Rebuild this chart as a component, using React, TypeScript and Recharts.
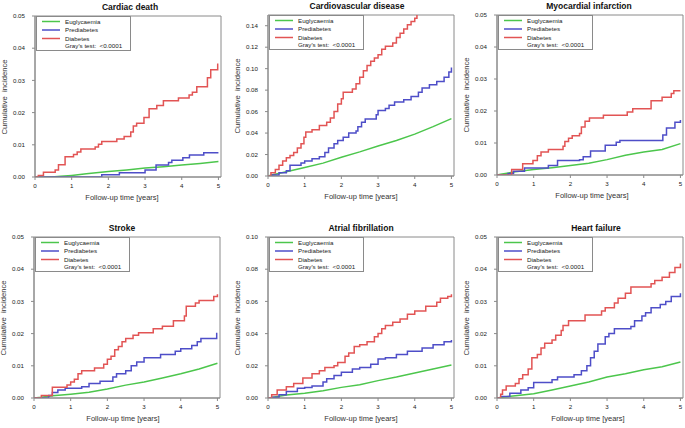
import React from 'react';
import { LineChart, Line, XAxis, YAxis, ReferenceArea } from 'recharts';

type Pts = [number, number][];

// ---------- tick labels / categories ----------
const xTicks = [0, 1, 2, 3, 4, 5];
const yTicks05 = [0, 0.01, 0.02, 0.03, 0.04, 0.05];
const yTicks15 = [0, 0.02, 0.04, 0.06, 0.08, 0.1, 0.12, 0.14];
const yTicks10 = [0, 0.02, 0.04, 0.06, 0.08, 0.1];
const seriesNames = ['Euglycaemia', 'Prediabetes', 'Diabetes'];
const testLabel = "Gray's test:  <0.0001";
const xLabel = 'Follow-up time [years]';
const yLabel = 'Cumulative  incidence';

// ---------- Cardiac death ----------
const cdEu: Pts = [[0, 0], [0.45, 0], [0.7, 0.0002], [1.0, 0.0005], [1.4, 0.001], [2.0, 0.0017], [2.5, 0.0022], [3.0, 0.0028], [3.5, 0.0032], [4.0, 0.0037], [4.5, 0.0042], [5.0, 0.0048]];
const cdPre: Pts = [[0, 0], [1.82, 0.0007], [2.3, 0.0013], [3.0, 0.0022], [3.3, 0.0037], [3.64, 0.0045], [3.73, 0.0052], [4.03, 0.006], [4.21, 0.0068], [4.6, 0.0075], [5.0, 0.0075]];
const cdDia: Pts = [[0, 0], [0.09, 0.0005], [0.23, 0.0015], [0.55, 0.0022], [0.64, 0.0038], [0.82, 0.0063], [1.05, 0.007], [1.15, 0.0078], [1.25, 0.0087], [1.64, 0.0093], [1.73, 0.0102], [1.82, 0.011], [2.23, 0.0118], [2.43, 0.0126], [2.61, 0.014], [2.68, 0.0158], [2.77, 0.0167], [2.97, 0.0185], [3.11, 0.0212], [3.32, 0.0222], [3.5, 0.0237], [3.91, 0.0245], [4.2, 0.0255], [4.29, 0.0263], [4.41, 0.028], [4.7, 0.0308], [4.79, 0.0333], [4.98, 0.035], [5.0, 0.035]];

// ---------- Cardiovascular disease ----------
const cvdEu: Pts = [[0, 0], [0.1, 0.001], [0.5, 0.004], [1.0, 0.008], [1.5, 0.012], [2.0, 0.0175], [2.5, 0.0225], [3.0, 0.028], [3.5, 0.033], [4.0, 0.039], [4.5, 0.046], [5.0, 0.0535]];
const cvdPre: Pts = [[0, 0], [0.1, 0.001], [0.3, 0.003], [0.5, 0.005], [0.6, 0.01], [0.9, 0.012], [1.0, 0.014], [1.2, 0.016], [1.4, 0.018], [1.55, 0.022], [1.65, 0.026], [1.8, 0.03], [1.9, 0.033], [2.05, 0.036], [2.2, 0.04], [2.4, 0.042], [2.45, 0.046], [2.55, 0.05], [2.65, 0.053], [2.95, 0.057], [3.0, 0.061], [3.2, 0.063], [3.3, 0.066], [3.45, 0.069], [3.7, 0.071], [3.9, 0.074], [4.1, 0.078], [4.2, 0.082], [4.4, 0.085], [4.6, 0.088], [4.8, 0.092], [4.93, 0.097], [5.0, 0.101]];
const cvdDia: Pts = [[0, 0], [0.08, 0.003], [0.2, 0.006], [0.3, 0.01], [0.4, 0.014], [0.5, 0.017], [0.6, 0.019], [0.7, 0.022], [0.8, 0.026], [0.9, 0.03], [0.98, 0.036], [1.03, 0.041], [1.2, 0.043], [1.4, 0.047], [1.6, 0.05], [1.7, 0.054], [1.8, 0.06], [1.9, 0.067], [2.0, 0.072], [2.05, 0.078], [2.3, 0.081], [2.4, 0.086], [2.5, 0.092], [2.6, 0.098], [2.7, 0.103], [2.8, 0.107], [2.9, 0.11], [3.0, 0.113], [3.1, 0.118], [3.2, 0.121], [3.4, 0.124], [3.5, 0.129], [3.6, 0.133], [3.7, 0.137], [3.8, 0.141], [3.9, 0.144], [4.0, 0.147], [4.06, 0.151], [4.3, 0.156], [4.6, 0.162], [5.0, 0.17]];

// ---------- Myocardial infarction ----------
const miEu: Pts = [[0, 0], [0.1, 0.0002], [0.5, 0.001], [1.0, 0.0017], [1.5, 0.0023], [2.0, 0.003], [2.5, 0.0037], [3.0, 0.0048], [3.5, 0.0062], [4.0, 0.0072], [4.5, 0.008], [5.0, 0.0098]];
const miPre: Pts = [[0, 0], [0.3, 0.0005], [0.45, 0.0012], [0.75, 0.0022], [1.4, 0.003], [1.65, 0.0045], [2.25, 0.0048], [2.35, 0.0057], [2.55, 0.0075], [2.95, 0.0093], [3.25, 0.0102], [3.35, 0.0108], [4.52, 0.0125], [4.62, 0.0147], [4.85, 0.0165], [5.0, 0.0172]];
const miDia: Pts = [[0, 0], [0.4, 0.0017], [0.7, 0.0035], [0.98, 0.0045], [1.1, 0.006], [1.2, 0.0072], [1.4, 0.008], [1.8, 0.009], [1.85, 0.0105], [1.95, 0.0115], [2.05, 0.0123], [2.25, 0.013], [2.3, 0.015], [2.4, 0.0168], [2.52, 0.0178], [2.9, 0.0187], [3.55, 0.0197], [3.7, 0.0207], [4.2, 0.0232], [4.5, 0.0243], [4.75, 0.0255], [4.82, 0.0263], [5.0, 0.0263]];

// ---------- Stroke ----------
const stEu: Pts = [[0, 0], [0.2, 0.0002], [0.5, 0.0007], [1.0, 0.0012], [1.5, 0.0018], [2.0, 0.0028], [2.5, 0.004], [3.0, 0.005], [3.5, 0.0062], [4.0, 0.0075], [4.5, 0.009], [5.0, 0.0108]];
const stPre: Pts = [[0, 0], [0.4, 0.0008], [0.5, 0.0017], [0.65, 0.0025], [0.85, 0.003], [1.3, 0.0035], [1.5, 0.0045], [1.8, 0.0052], [2.15, 0.0065], [2.25, 0.0075], [2.5, 0.0085], [2.65, 0.01], [2.8, 0.0112], [3.0, 0.0125], [3.45, 0.0135], [3.85, 0.0145], [4.0, 0.0153], [4.3, 0.0163], [4.45, 0.0175], [4.55, 0.0185], [4.98, 0.02], [5.0, 0.02]];
const stDia: Pts = [[0, 0], [0.2, 0.0008], [0.5, 0.0033], [0.9, 0.004], [1.0, 0.005], [1.1, 0.0058], [1.2, 0.0075], [1.3, 0.0085], [1.65, 0.0093], [1.9, 0.0105], [2.0, 0.012], [2.1, 0.013], [2.2, 0.015], [2.3, 0.016], [2.4, 0.0175], [2.5, 0.0185], [2.7, 0.0195], [2.85, 0.0203], [3.25, 0.0215], [3.5, 0.0223], [3.8, 0.024], [4.1, 0.0255], [4.15, 0.0285], [4.4, 0.0295], [4.5, 0.0303], [4.9, 0.0315], [5.0, 0.0322]];

// ---------- Atrial fibrillation ----------
const afEu: Pts = [[0, 0], [0.1, 0.0003], [0.5, 0.0018], [1.0, 0.003], [1.5, 0.0045], [2.0, 0.0066], [2.5, 0.0082], [3.0, 0.0108], [3.5, 0.013], [4.0, 0.0155], [4.5, 0.018], [5.0, 0.0205]];
const afPre: Pts = [[0, 0], [0.1, 0.0005], [0.3, 0.002], [0.5, 0.004], [0.8, 0.006], [1.0, 0.0065], [1.2, 0.0075], [1.5, 0.01], [1.6, 0.012], [1.8, 0.014], [2.0, 0.016], [2.3, 0.018], [2.5, 0.019], [2.8, 0.021], [3.0, 0.0243], [3.2, 0.025], [3.5, 0.027], [3.8, 0.029], [4.2, 0.031], [4.5, 0.033], [4.8, 0.035], [5.0, 0.036]];
const afDia: Pts = [[0, 0], [0.1, 0.002], [0.25, 0.005], [0.5, 0.007], [0.7, 0.009], [0.95, 0.0124], [1.2, 0.015], [1.4, 0.017], [1.55, 0.019], [1.8, 0.020], [1.9, 0.022], [2.1, 0.026], [2.2, 0.028], [2.35, 0.032], [2.5, 0.033], [2.7, 0.035], [2.9, 0.038], [3.0, 0.040], [3.1, 0.043], [3.2, 0.045], [3.4, 0.047], [3.6, 0.049], [3.8, 0.052], [4.0, 0.054], [4.3, 0.057], [4.6, 0.0595], [4.7, 0.062], [4.9, 0.063], [5.0, 0.0645]];

// ---------- Heart failure ----------
const hfEu: Pts = [[0, 0], [0.2, 0.0003], [0.5, 0.0007], [1.0, 0.0013], [1.5, 0.0025], [2.0, 0.0037], [2.5, 0.005], [3.0, 0.0065], [3.5, 0.0075], [4.0, 0.0088], [4.5, 0.0097], [5.0, 0.0112]];
const hfPre: Pts = [[0, 0], [0.1, 0.0005], [0.35, 0.0015], [0.65, 0.0025], [0.85, 0.0032], [1.0, 0.0048], [1.5, 0.0057], [1.65, 0.0065], [2.1, 0.0072], [2.3, 0.0085], [2.45, 0.01], [2.55, 0.0125], [2.65, 0.0145], [2.75, 0.0168], [2.95, 0.019], [3.05, 0.02], [3.2, 0.0215], [3.65, 0.0222], [3.75, 0.024], [3.95, 0.0255], [4.05, 0.0265], [4.2, 0.028], [4.45, 0.029], [4.6, 0.03], [4.75, 0.0315], [5.0, 0.0325]];
const hfDia: Pts = [[0, 0], [0.1, 0.0012], [0.15, 0.0025], [0.25, 0.0037], [0.5, 0.0045], [0.6, 0.006], [0.7, 0.0072], [0.85, 0.009], [0.95, 0.0125], [1.1, 0.0135], [1.2, 0.0155], [1.3, 0.017], [1.5, 0.018], [1.6, 0.0195], [1.75, 0.021], [1.8, 0.0225], [1.95, 0.024], [2.4, 0.0258], [2.85, 0.027], [2.95, 0.028], [3.2, 0.0295], [3.3, 0.031], [3.5, 0.0325], [3.65, 0.0345], [4.2, 0.0355], [4.3, 0.0365], [4.5, 0.0375], [4.7, 0.039], [4.85, 0.0405], [5.0, 0.0418]];

const GREEN = '#4cc64c';
const BLUE = '#4e4ec8';
const RED = '#e25454';
const BOX = '#8a8a8a';
const XMAX = 5.07;
const PW = 186;
const SW = 1.5;
const FONT = '"Liberation Sans", Arial, sans-serif';

const toData = (p: Pts) => p.map(([t, v]) => ({ t, v }));

type PanelProps = {
  title: string; left: number; top: number; ph: number; ymax: number; yTicks: number[];
  eu: Pts; pre: Pts; dia: Pts; titleDx: number; xlabDx: number;
};

function Panel({ title, left, top, ph, ymax, yTicks, eu, pre, dia, titleDx, xlabDx }: PanelProps) {
  const ML = 6, YW = 30, MT = 16, XH = 17, MB = 20;
  const CW = ML + YW + PW + 8;
  const CH = MT + ph + XH + MB;
  const tickStyle = { fontSize: 6.2, fill: '#222', fontFamily: FONT };
  const colors = [GREEN, BLUE, RED];
  return (
    <>
      <div style={{ position: 'absolute', left: left - ML - YW, top: top - MT }}>
        <LineChart width={CW} height={CH} margin={{ top: MT, right: 8, bottom: MB, left: ML }}>
          <XAxis type="number" dataKey="t" domain={[0, XMAX]} ticks={xTicks} interval={0}
            allowDataOverflow height={XH} tickSize={3} tickMargin={4}
            stroke={BOX} tick={tickStyle} />
          <YAxis type="number" domain={[0, ymax]} ticks={yTicks} interval={0}
            allowDataOverflow width={YW} tickSize={3} tickMargin={7}
            tickFormatter={(v: number) => v.toFixed(2)} stroke={BOX} tick={tickStyle} />
          <ReferenceArea x1={0} x2={XMAX} y1={0} y2={ymax} fill="none" fillOpacity={0}
            stroke={BOX} strokeWidth={1} ifOverflow="visible" />
          <Line data={toData(eu)} dataKey="v" type="linear" stroke={GREEN} strokeWidth={SW}
            dot={false} activeDot={false} isAnimationActive={false} />
          <Line data={toData(pre)} dataKey="v" type="stepAfter" stroke={BLUE} strokeWidth={SW}
            dot={false} activeDot={false} isAnimationActive={false} />
          <Line data={toData(dia)} dataKey="v" type="stepAfter" stroke={RED} strokeWidth={SW}
            dot={false} activeDot={false} isAnimationActive={false} />
        </LineChart>
      </div>
      <div style={{
        position: 'absolute', left: left + PW / 2 + titleDx, top: top - 14.5, height: 10, lineHeight: '10px',
        transform: 'translateX(-50%)', whiteSpace: 'nowrap', fontSize: 8.5, fontWeight: 'bold', color: '#111', fontFamily: FONT,
      }}>{title}</div>
      <div style={{
        position: 'absolute', left: left + PW / 2 + xlabDx, top: top + ph + 16, height: 10, lineHeight: '10px',
        transform: 'translateX(-50%)', whiteSpace: 'nowrap', fontSize: 7.5, color: '#333', fontFamily: FONT,
      }}>{xLabel}</div>
      <div style={{
        position: 'absolute', left: left - 30, top: top + ph / 2, width: 120, height: 10, lineHeight: '10px',
        marginLeft: -60, marginTop: -5, textAlign: 'center',
        transform: 'rotate(-90deg)', whiteSpace: 'pre', fontSize: 7.7, color: '#333', fontFamily: FONT,
      }}>{yLabel}</div>
      <div style={{
        position: 'absolute', left: left + 1, top: top, width: 95, height: 35, boxSizing: 'border-box',
        border: `1px solid ${BOX}`, background: '#fff', fontFamily: FONT, fontSize: 6.2, color: '#222',
      }}>
        <svg width={95} height={35} style={{ position: 'absolute', left: -1, top: -1 }}>
          {seriesNames.map((n, i) => (
            <line key={n} x1={6} x2={24} y1={5.5 + i * 8.5} y2={5.5 + i * 8.5} stroke={colors[i]} strokeWidth={SW} />
          ))}
        </svg>
        {seriesNames.map((n, i) => (
          <div key={n} style={{ position: 'absolute', left: 28, top: 0.5 + i * 8.5, height: 8, lineHeight: '8px', whiteSpace: 'nowrap' }}>{n}</div>
        ))}
        <div style={{ position: 'absolute', left: 28, top: 25, height: 8, lineHeight: '8px', whiteSpace: 'pre' }}>{testLabel}</div>
      </div>
    </>
  );
}

export default function App() {
  return (
    <div style={{ position: 'absolute', left: 0, top: 0, width: 685, height: 428, overflow: 'hidden', background: '#fff' }}>
      <Panel title="Cardiac death" left={35} top={16} ph={161} ymax={0.05} yTicks={yTicks05} eu={cdEu} pre={cdPre} dia={cdDia} titleDx={2} xlabDx={-6} />
      <Panel title="Cardiovascular disease" left={268} top={15} ph={161} ymax={0.15} yTicks={yTicks15} eu={cvdEu} pre={cvdPre} dia={cvdDia} titleDx={-4} xlabDx={0} />
      <Panel title="Myocardial infarction" left={497} top={15} ph={160} ymax={0.05} yTicks={yTicks05} eu={miEu} pre={miPre} dia={miDia} titleDx={-1} xlabDx={2} />
      <Panel title="Stroke" left={34} top={237} ph={161} ymax={0.05} yTicks={yTicks05} eu={stEu} pre={stPre} dia={stDia} titleDx={-5} xlabDx={-4} />
      <Panel title="Atrial fibrillation" left={268} top={237} ph={161} ymax={0.1} yTicks={yTicks10} eu={afEu} pre={afPre} dia={afDia} titleDx={0} xlabDx={0} />
      <Panel title="Heart failure" left={497} top={237} ph={161} ymax={0.05} yTicks={yTicks05} eu={hfEu} pre={hfPre} dia={hfDia} titleDx={6} xlabDx={-2} />
    </div>
  );
}
